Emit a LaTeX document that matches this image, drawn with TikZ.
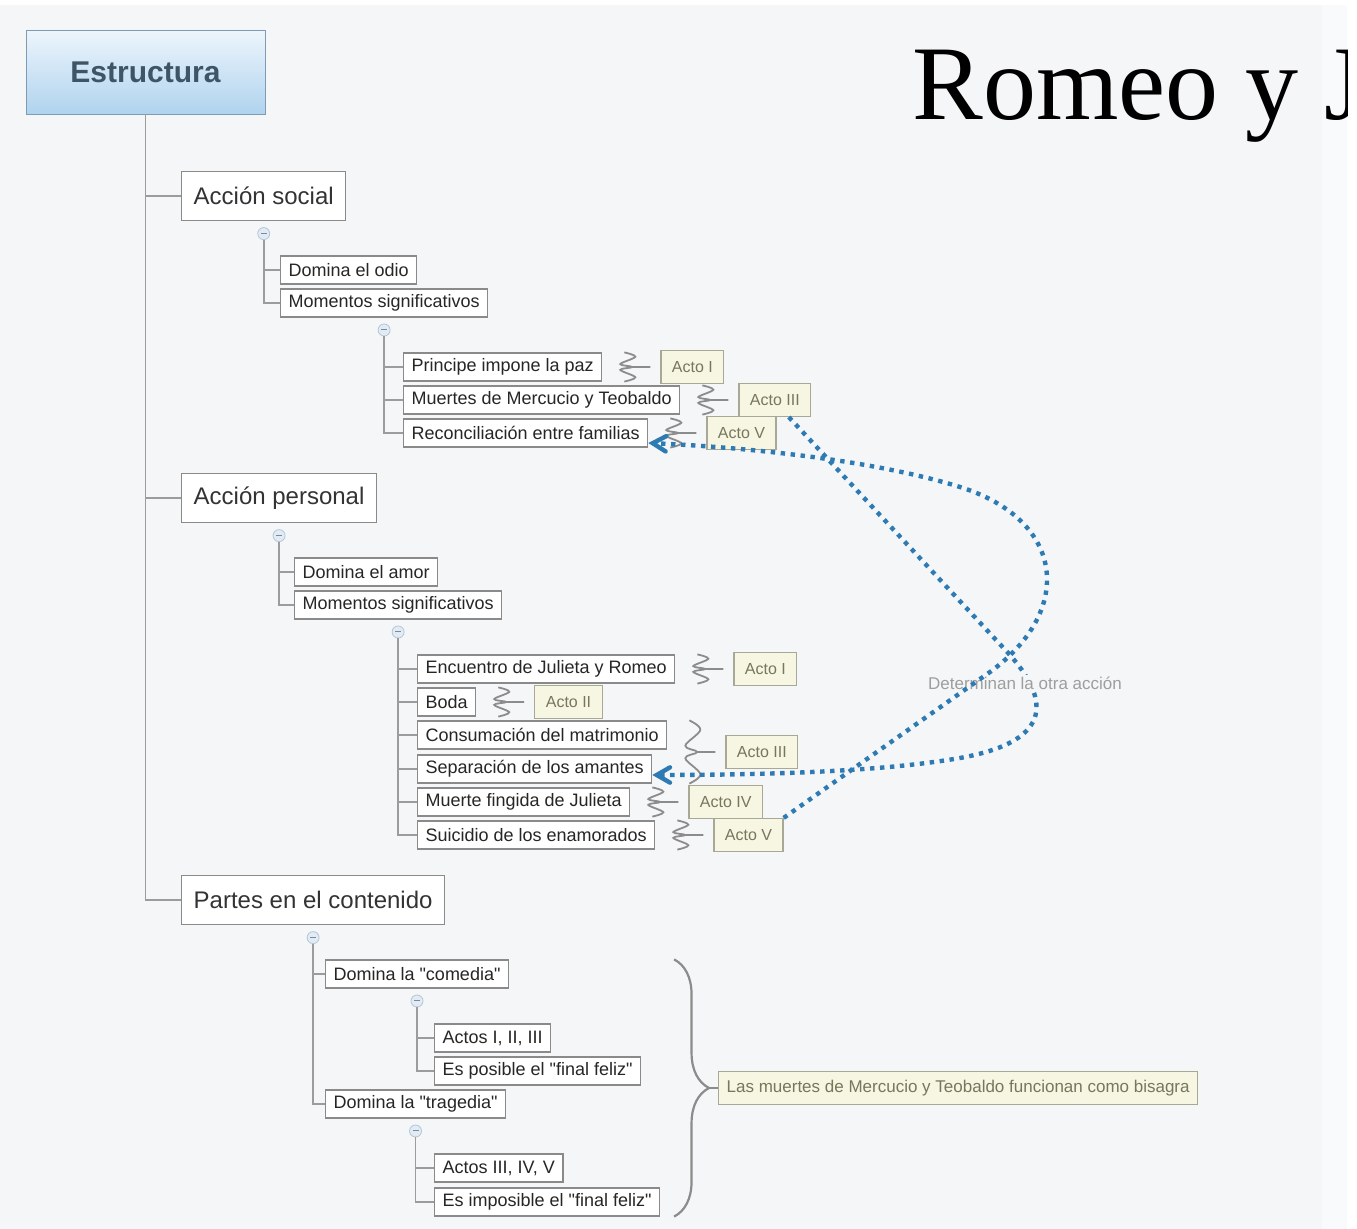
\documentclass[tikz,border=0pt]{standalone}
\usepackage{fontspec}
\setmainfont{Liberation Sans}
\newfontfamily\titlefont{Liberation Serif}
\usetikzlibrary{positioning}
\usetikzlibrary{calc}
\usetikzlibrary{arrows}
\usetikzlibrary{decorations.pathreplacing}
\definecolor{paper}{HTML}{F4F6F8}
\definecolor{paperedge}{HTML}{F9FAFB}
\definecolor{treeline}{HTML}{9C9C9C}
\definecolor{boxline}{HTML}{8A8A8A}
\definecolor{actofill}{HTML}{F6F6E2}
\definecolor{actoline}{HTML}{A8A896}
\definecolor{actotext}{HTML}{77775C}
\definecolor{relblue}{HTML}{2E7BB4}
\definecolor{knobfill}{HTML}{E2EBF4}
\definecolor{knobline}{HTML}{B3C6D9}
\definecolor{centralline}{HTML}{7F9BB3}
\definecolor{centraltop}{HTML}{EDF5FC}
\definecolor{centralbottom}{HTML}{B0D3EE}
\definecolor{centraltext}{HTML}{3E5567}
\tikzstyle{central} = [rectangle, draw=centralline, top color=centraltop, bottom color=centralbottom,
minimum width=119.5pt, minimum height=42pt, font=\bfseries\fontsize{15}{15}\selectfont, text=centraltext]
\tikzstyle{branch} = [rectangle, draw=boxline, fill=white, line width=0.7pt, minimum height=24.5pt,
inner xsep=6pt, font=\fontsize{12}{12}\selectfont, text=black!80, anchor=west]
\tikzstyle{topic} = [rectangle, draw=boxline, fill=white, line width=0.6pt, minimum height=14pt,
inner xsep=4pt, inner ysep=0pt, font=\fontsize{9}{9}\selectfont, text=black!85, anchor=west]
\tikzstyle{acto} = [rectangle, draw=actoline, fill=actofill, line width=0.6pt, minimum height=16.5pt,
inner xsep=5.5pt, font=\fontsize{8}{8}\selectfont, text=actotext]
\tikzstyle{note} = [acto, font=\fontsize{8.5}{8.5}\selectfont, inner xsep=4pt, anchor=west]
\tikzstyle{knob} = [circle, draw=knobline, fill=knobfill, minimum size=6pt, inner sep=0pt,
path picture={\draw[knobline!70!black, line width=0.5pt]
  ([xshift=-1.5pt]path picture bounding box.center) -- ([xshift=1.5pt]path picture bounding box.center);}]
\tikzstyle{tree} = [draw=treeline, line width=0.8pt]
\tikzstyle{squig} = [draw=treeline!90!black, line width=0.9pt]
\tikzstyle{rel} = [draw=relblue, line width=2.2pt, dash pattern=on 2.2pt off 2.8pt, ->, >=angle 60]
\tikzstyle{rellabel} = [font=\fontsize{8.5}{8.5}\selectfont, text=black!38, fill=paper, inner sep=1pt]
\newcommand{\twig}[2]{ %
  % Join knob #1 to all topics #2.
  \foreach \y in {#2} { %
    \draw[tree] (#1) |- (\y.west) ;%
  } ;
}
\newcommand{\summary}[3]{ %
  % Squiggle right of topics #1..#2, tied to label #3.
  \draw[squig] let \p1=(#1.north east), \p2=(#2.south east) in
    plot[smooth, tension=0.6] coordinates {(\x1+11pt,\y1)
      (\x1+16.5pt,{0.85*(\y1)+0.15*(\y2)}) (\x1+9pt,{0.6*(\y1)+0.4*(\y2)})
      (\x1+15pt,{0.5*(\y1)+0.5*(\y2)})
      (\x1+9pt,{0.4*(\y1)+0.6*(\y2)}) (\x1+16.5pt,{0.15*(\y1)+0.85*(\y2)}) (\x1+11pt,\y2)}
    (\x1+15pt,{0.5*(\y1)+0.5*(\y2)}) -- ([xshift=-5pt]#3.west) ;
}

\begin{document}
\begin{tikzpicture}[x=0.5pt, y=-0.5pt]
  \useasboundingbox (0,0) rectangle (1357,1229);
  \fill[white] (0,0) rectangle (1357,1229);
  \fill[paper] (0,5) rectangle (1322,1229);
  \fill[paperedge] (1322,5) rectangle (1347,1229);
  \begin{scope}
    \clip (0,0) rectangle (1347,1229);
    \node[anchor=base west, inner sep=0pt, font=\titlefont\fontsize{53}{53}\selectfont] (title) at (912,120) {Romeo y J};
  \end{scope}

  \node[central] (estr) at (145.5,72) {Estructura};

  \node[branch] (social) at (181,196) {Acción social};
  \node[knob, below=3pt of social] (ks) {};
  \node[topic] (odio) at (280,270) {Domina el odio};
  \node[topic] (moms) at (280,303) {Momentos significativos};
  \node[knob, below=3pt of moms] (kms) {};
  \node[topic] (paz) at (403,367) {Principe impone la paz};
  \node[topic] (muertes) at (403,400) {Muertes de Mercucio y Teobaldo};
  \node[topic] (rec) at (403,433) {Reconciliación entre familias};

  \node[branch] (personal) at (181,498) {Acción personal};
  \node[knob, below=3pt of personal] (kp) {};
  \node[topic] (amor) at (294,572) {Domina el amor};
  \node[topic] (momp) at (294,605) {Momentos significativos};
  \node[knob, below=3pt of momp] (kmp) {};
  \node[topic] (enc) at (417,669) {Encuentro de Julieta y Romeo};
  \node[topic] (boda) at (417,702) {Boda};
  \node[topic] (cons) at (417,735) {Consumación del matrimonio};
  \node[topic] (sepa) at (417,769) {Separación de los amantes};
  \node[topic] (fing) at (417,802) {Muerte fingida de Julieta};
  \node[topic] (suic) at (417,835) {Suicidio de los enamorados};

  \node[branch] (partes) at (181,900) {Partes en el contenido};
  \node[knob, below=3pt of partes] (kpa) {};
  \node[topic] (com) at (325,974) {Domina la \textquotedbl comedia\textquotedbl};
  \node[knob, below=3pt of com] (kc) {};
  \node[topic] (tresa) at (434,1038) {Actos I, II, III};
  \node[topic] (posible) at (434,1071) {Es posible el \textquotedbl final feliz\textquotedbl};
  \node[topic] (trag) at (325,1104) {Domina la \textquotedbl tragedia\textquotedbl};
  \node[knob, below=3pt of trag] (kt) {};
  \node[topic] (tresb) at (434,1168) {Actos III, IV, V};
  \node[topic] (imposible) at (434,1202) {Es imposible el \textquotedbl final feliz\textquotedbl};

  \twig{estr.south}{social,personal,partes};
  \twig{ks.south}{odio,moms};
  \twig{kms.south}{paz,muertes,rec};
  \twig{kp.south}{amor,momp};
  \twig{kmp.south}{enc,boda,cons,sepa,fing,suic};
  \twig{kpa.south}{com,trag};
  \twig{kc.south}{tresa,posible};
  \twig{kt.south}{tresb,imposible};

  \node[acto, right=29pt of paz] (a1s) {Acto I};
  \node[acto, right=29pt of muertes] (a3s) {Acto III};
  \node[acto, right=29pt of rec] (a5s) {Acto V};
  \node[acto, right=29pt of enc] (a1p) {Acto I};
  \node[acto, right=29pt of boda] (a2p) {Acto II};
  \coordinate (mid) at ($(cons.east)!0.5!(cons.east |- sepa.east)$);
  \node[acto, right=29pt of mid] (a3p) {Acto III};
  \node[acto, right=29pt of fing] (a4p) {Acto IV};
  \node[acto, right=29pt of suic] (a5p) {Acto V};

  \summary{paz}{paz}{a1s};
  \summary{muertes}{muertes}{a3s};
  \summary{rec}{rec}{a5s};
  \summary{enc}{enc}{a1p};
  \summary{boda}{boda}{a2p};
  \summary{cons}{sepa}{a3p};
  \summary{fing}{fing}{a4p};
  \summary{suic}{suic}{a5p};

  \coordinate (btop) at ($(imposible.east |- com.north)+(7pt,0)$);
  \coordinate (bbot) at ($(imposible.south east)+(7pt,0)$);
  \draw[squig, line width=1.1pt, decorate, decoration={brace, amplitude=17.5pt}] (btop) -- (bbot);
  \node[note] (bisagra) at ($(btop)!0.5!(bbot)+(22pt,0)$) {Las muertes de Mercucio y Teobaldo funcionan como bisagra};
  \draw[squig] ($(btop)!0.5!(bbot)+(17.5pt,0)$) -- (bisagra.west);

  \draw[rel] ([xshift=7pt]a3s.south) -- (1010,655) .. controls (1045,695) and (1060,740) .. (960,758)
    .. controls (880,772) and (760,775) .. ([yshift=-3pt]sepa.east);
  \node[rellabel] (det) at (1025,683) {Determinan la otra acción};
  \draw[rel] (a5p.north east) -- (990,672) .. controls (1075,610) and (1065,520) .. (960,487)
    .. controls (880,462) and (760,448) .. ([yshift=-5pt]rec.east);
\end{tikzpicture}
\end{document}
